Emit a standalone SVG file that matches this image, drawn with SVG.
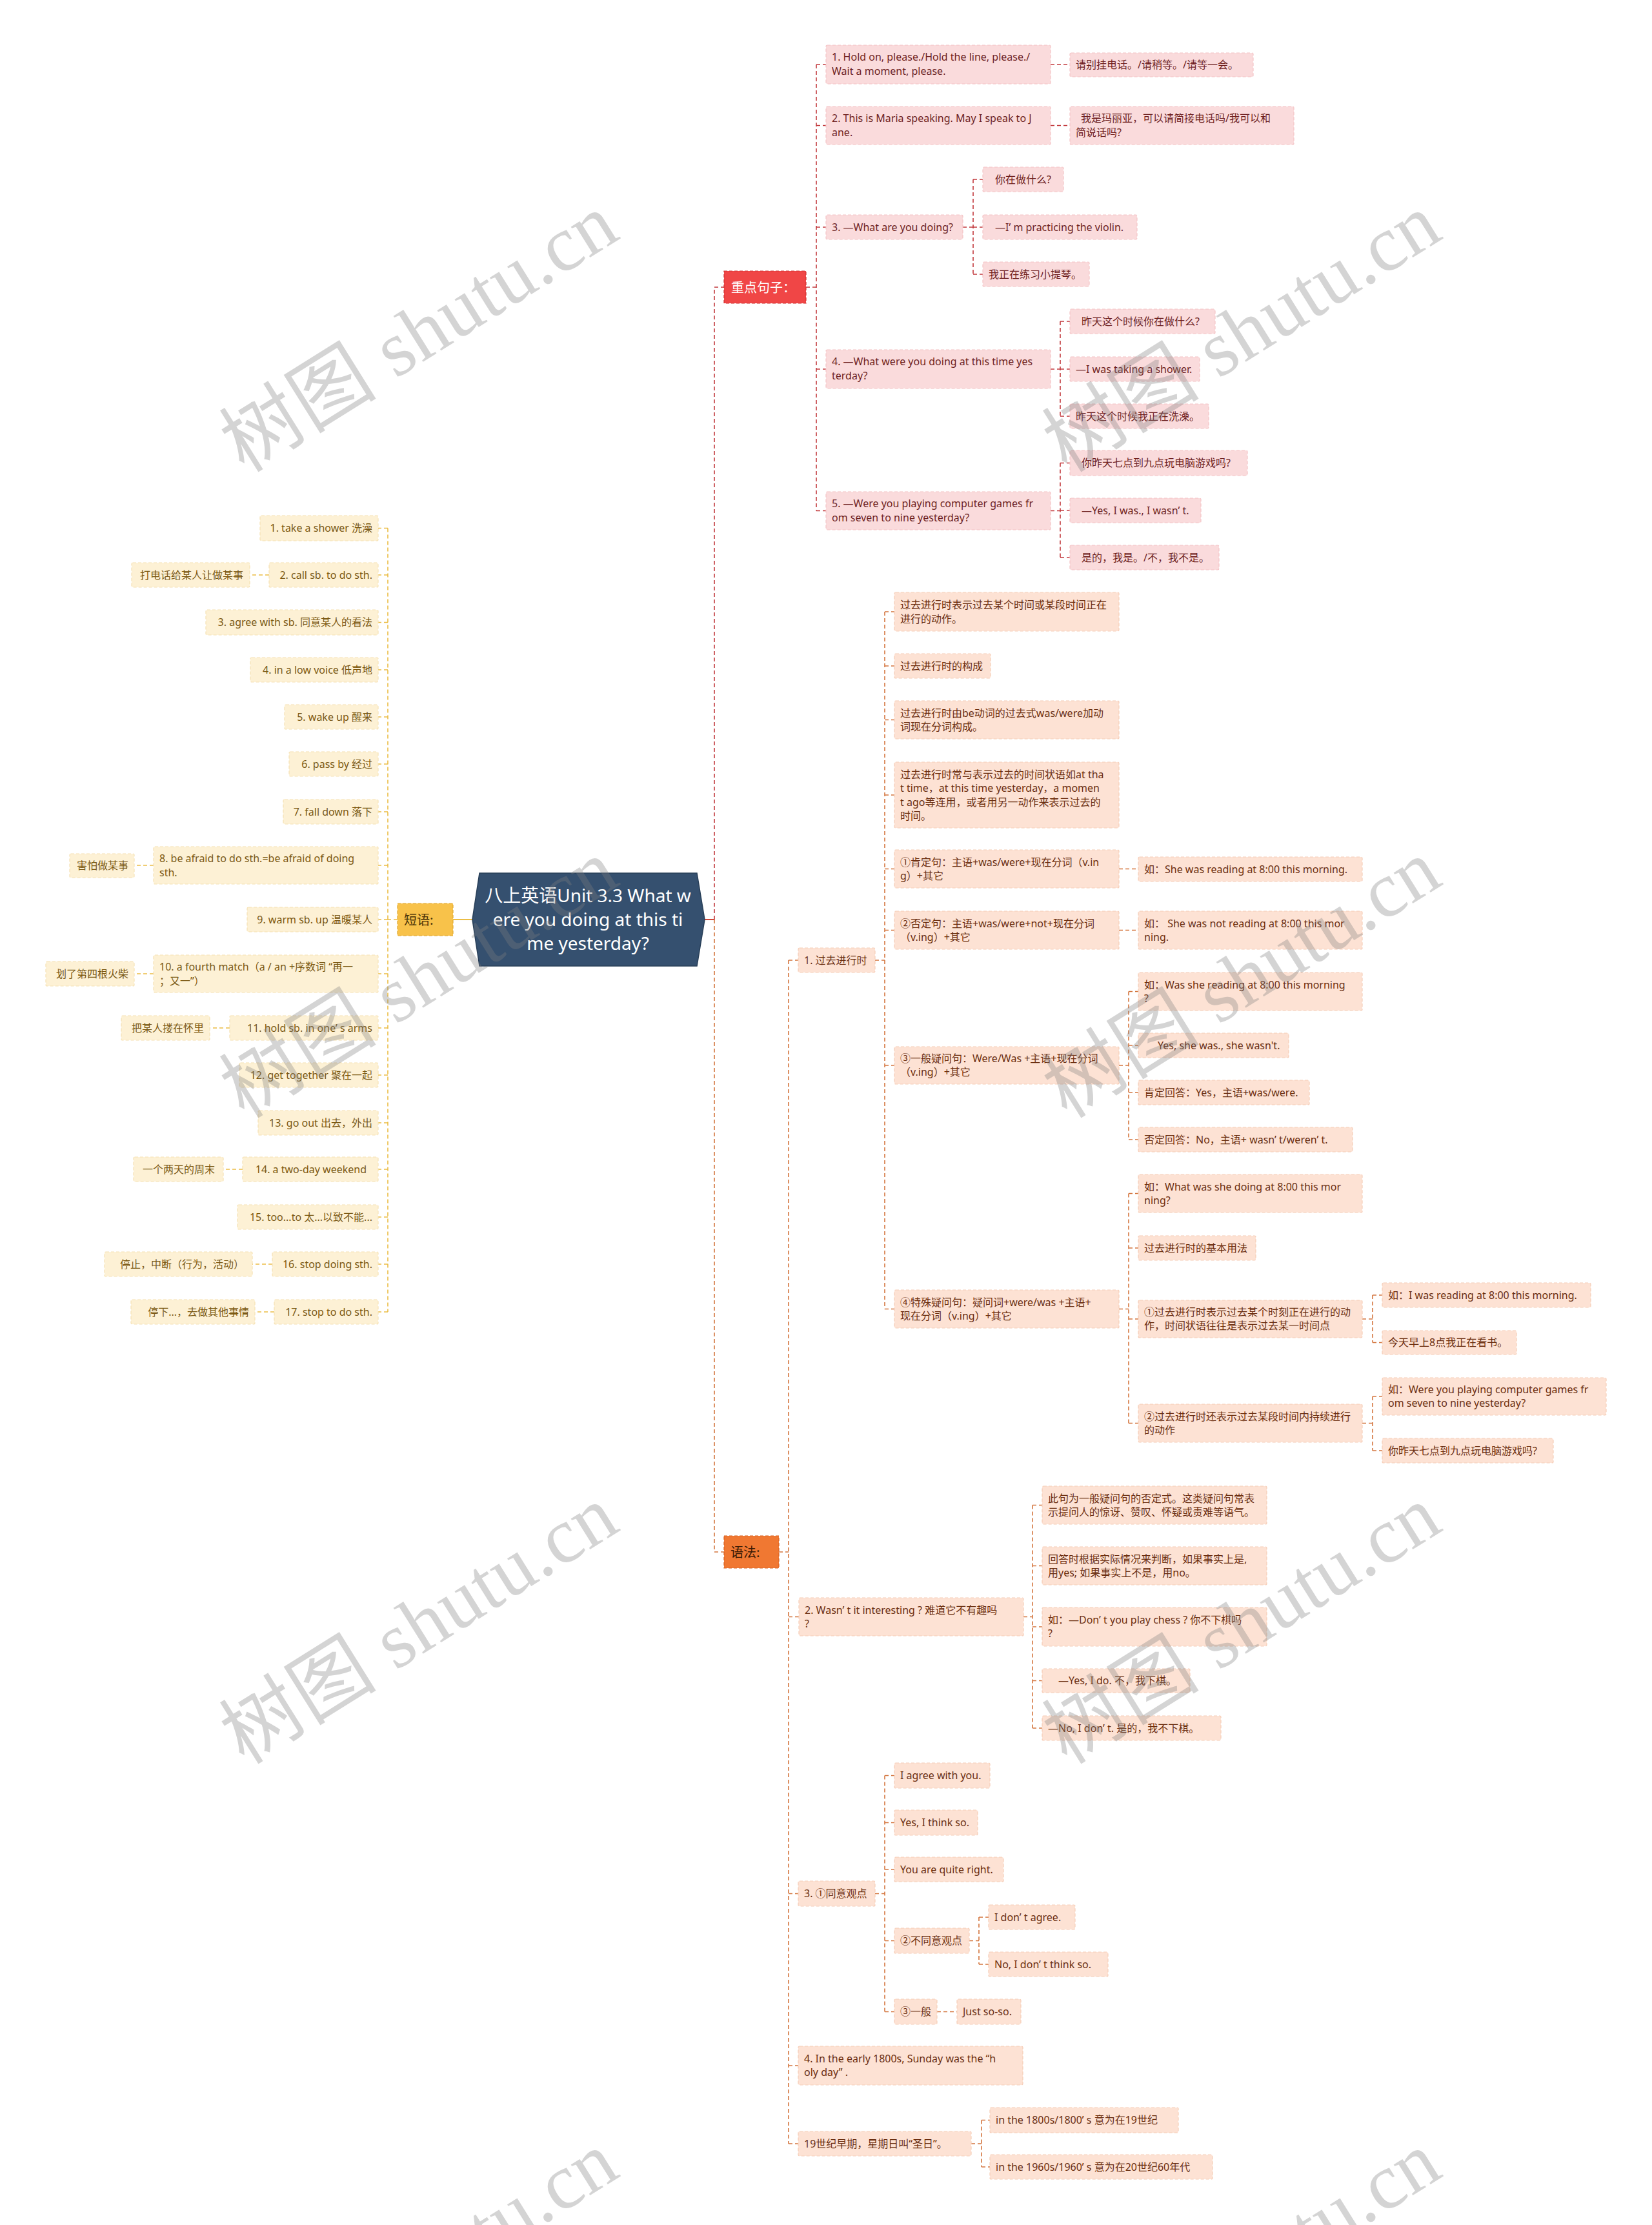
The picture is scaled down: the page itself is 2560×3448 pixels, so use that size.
<svg xmlns="http://www.w3.org/2000/svg" width="2560" height="3448" viewBox="0 0 2560 3448">
<style>
.t{font-family:"Noto Sans","Noto Sans CJK SC",sans-serif;font-size:16px}
.n1 rect{fill:#fadbdc;stroke:#f4c4c6;stroke-width:1.2;stroke-dasharray:5 3}
.n1 text{fill:#6e1f1f}
.n2 rect{fill:#fdf1d5;stroke:#f6e2b4;stroke-width:1.2;stroke-dasharray:5 3}
.n2 text{fill:#7a5812}
.n3 rect{fill:#fde2d4;stroke:#f6cdb7;stroke-width:1.2;stroke-dasharray:5 3}
.n3 text{fill:#6b2e10}
.c{fill:none;stroke-width:1.6;stroke-dasharray:6 4}
.c1{stroke:#c23a3e}
.c2{stroke:#ebbd45}
.c3{stroke:#d4763f}
.e{text-anchor:end}
.wm{font-family:"Liberation Serif","Noto Sans CJK SC",serif;font-size:122px;fill:#7f7f7f;opacity:0.33}
</style>
<rect width="2560" height="3448" fill="#ffffff"/>

<g id="connectors">
  <path d="M1092,1425 H1107" stroke="#d0483a" stroke-width="2" fill="none"/>
  <path class="c c1" d="M1107,1425 V445 H1122"/>
  <path class="c c3" d="M1107,1425 V2405 H1122"/>
  <path d="M732,1425 H702" stroke="#ebbd45" stroke-width="2" fill="none"/>

  <path class="c c1" d="M1249,445 H1265 M1265,100 V791.5 M1265,100 H1280 M1265,194.5 H1280 M1265,352 H1280 M1265,572 H1280 M1265,791.5 H1280"/>
  <path class="c c1" d="M1628,100 H1658 M1628,194.5 H1658"/>
  <path class="c c1" d="M1492,352 H1508 M1508,278 V425 M1508,278 H1523 M1508,352 H1523 M1508,425 H1523"/>
  <path class="c c1" d="M1628,572 H1643 M1643,498 V645 M1643,498 H1658 M1643,572 H1658 M1643,645 H1658"/>
  <path class="c c1" d="M1628,791.5 H1643 M1643,717.5 V864 M1643,717.5 H1658 M1643,791 H1658 M1643,864 H1658"/>

  <path class="c c2" d="M616,1425 H601 M601,818.5 V2033 M601,818.5 H586 M601,891 H586 M601,964.5 H586 M601,1038 H586 M601,1111 H586 M601,1184 H586 M601,1258 H586 M601,1341 H586 M601,1425 H586 M601,1509 H586 M601,1593 H586 M601,1666 H586 M601,1740 H586 M601,1812 H586 M601,1886 H586 M601,1959 H586 M601,2033 H586"/>
  <path class="c c2" d="M417,891 H387 M238,1341 H208 M238,1509 H208 M356,1593 H325 M376,1812 H346 M422,1959 H391 M425,2033 H395"/>

  <path class="c c3" d="M1207,2405 H1222 M1222,1488 V3322 M1222,1488 H1237 M1222,2505.5 H1238 M1222,2934.5 H1237 M1222,3201 H1237 M1222,3322 H1237"/>
  <path class="c c3" d="M1356,1488 H1371 M1371,948 V2028.5 M1371,948 H1386 M1371,1032 H1386 M1371,1115.5 H1386 M1371,1232 H1386 M1371,1346.5 H1386 M1371,1441.5 H1386 M1371,1651 H1386 M1371,2028.5 H1386"/>
  <path class="c c3" d="M1734,1346.5 H1764 M1734,1441.5 H1764"/>
  <path class="c c3" d="M1734,1651 H1749 M1749,1536.5 V1766 M1749,1536.5 H1764 M1749,1620 H1764 M1749,1693 H1764 M1749,1766 H1764"/>
  <path class="c c3" d="M1734,2028.5 H1749 M1749,1849.5 V2205.5 M1749,1849.5 H1764 M1749,1934 H1764 M1749,2044 H1764 M1749,2205.5 H1764"/>
  <path class="c c3" d="M2111,2044 H2127 M2127,2007 V2080.5 M2127,2007 H2142 M2127,2080.5 H2142"/>
  <path class="c c3" d="M2111,2205.5 H2127 M2127,2164 V2248 M2127,2164 H2142 M2127,2248 H2142"/>
  <path class="c c3" d="M1586,2505.5 H1600 M1600,2332.5 V2678 M1600,2332.5 H1615 M1600,2426.5 H1615 M1600,2521 H1615 M1600,2604.5 H1615 M1600,2678 H1615"/>
  <path class="c c3" d="M1356,2934.5 H1371 M1371,2751.5 V3117.5 M1371,2751.5 H1386 M1371,2824.5 H1386 M1371,2897 H1386 M1371,3007.5 H1386 M1371,3117.5 H1386"/>
  <path class="c c3" d="M1502,3007.5 H1517 M1517,2971 V3044 M1517,2971 H1532 M1517,3044 H1532 M1452,3117.5 H1483"/>
  <path class="c c3" d="M1505,3322 H1521 M1521,3285.5 V3358 M1521,3285.5 H1534 M1521,3358 H1534"/>
</g>

<g id="root">
  <path d="M743,1353 L1080,1353 L1092,1425 L1080,1497 L743,1497 L732,1425 Z" fill="#35506f" stroke="#283f58" stroke-width="1.5"/>
  <text font-family="Noto Sans,Noto Sans CJK SC,sans-serif" font-size="28" fill="#ffffff" text-anchor="middle"><tspan x="911" y="1398">八上英语Unit 3.3 What w</tspan><tspan x="911" y="1435">ere you doing at this ti</tspan><tspan x="911" y="1472">me yesterday?</tspan></text>
</g>

<g id="b-phrases">
  <rect x="616" y="1400" width="86" height="50" fill="#f8c24a" stroke="#e0a830" stroke-width="1.2" stroke-dasharray="5 3"/>
  <text x="626" y="1433" font-family="Noto Sans CJK SC,sans-serif" font-size="20" fill="#4a3408">短语:</text>
</g>
<g id="b-sentences">
  <rect x="1122" y="420" width="127" height="50" fill="#f04646" stroke="#d03030" stroke-width="1.2" stroke-dasharray="5 3"/>
  <text x="1133" y="453" font-family="Noto Sans CJK SC,sans-serif" font-size="20" fill="#ffffff">重点句子：</text>
</g>
<g id="b-grammar">
  <rect x="1122" y="2380" width="85" height="50" fill="#f07832" stroke="#d86020" stroke-width="1.2" stroke-dasharray="5 3"/>
  <text x="1132" y="2413" font-family="Noto Sans CJK SC,sans-serif" font-size="20" fill="#3a1a05">语法:</text>
</g>

<!-- 重点句子 -->
<g id="s1" class="n1 t"><rect x="1280" y="70" width="348" height="60" rx="2"/><text><tspan x="1289" y="94">1. Hold on, please./Hold the line, please./</tspan><tspan x="1289" y="116">Wait a moment, please.</tspan></text></g>
<g id="s1a" class="n1 t"><rect x="1658" y="82" width="284" height="37" rx="2"/><text x="1667" y="106">请别挂电话。/请稍等。/请等一会。</text></g>
<g id="s2" class="n1 t"><rect x="1280" y="165" width="348" height="59" rx="2"/><text><tspan x="1289" y="189">2. This is Maria speaking. May I speak to J</tspan><tspan x="1289" y="211">ane.</tspan></text></g>
<g id="s2a" class="n1 t"><rect x="1658" y="165" width="347" height="59" rx="2"/><text><tspan x="1675" y="189">我是玛丽亚，可以请简接电话吗/我可以和</tspan><tspan x="1667" y="211">简说话吗?</tspan></text></g>
<g id="s3" class="n1 t"><rect x="1280" y="333" width="212" height="38" rx="2"/><text x="1289" y="358">3. —What are you doing?</text></g>
<g id="s3a" class="n1 t"><rect x="1523" y="259" width="125" height="38" rx="2"/><text x="1542" y="284">你在做什么?</text></g>
<g id="s3b" class="n1 t"><rect x="1523" y="333" width="239" height="38" rx="2"/><text x="1542" y="358">—I’ m practicing the violin.</text></g>
<g id="s3c" class="n1 t"><rect x="1523" y="406" width="165" height="38" rx="2"/><text x="1532" y="431">我正在练习小提琴。</text></g>
<g id="s4" class="n1 t"><rect x="1280" y="542" width="348" height="60" rx="2"/><text><tspan x="1289" y="566">4. —What were you doing at this time yes</tspan><tspan x="1289" y="588">terday?</tspan></text></g>
<g id="s4a" class="n1 t"><rect x="1658" y="479" width="225" height="38" rx="2"/><text x="1676" y="504">昨天这个时候你在做什么?</text></g>
<g id="s4b" class="n1 t"><rect x="1658" y="553" width="201" height="38" rx="2"/><text x="1667" y="578">—I was taking a shower.</text></g>
<g id="s4c" class="n1 t"><rect x="1658" y="626" width="215" height="38" rx="2"/><text x="1667" y="651">昨天这个时候我正在洗澡。</text></g>
<g id="s5" class="n1 t"><rect x="1280" y="762" width="348" height="59" rx="2"/><text><tspan x="1289" y="786">5. —Were you playing computer games fr</tspan><tspan x="1289" y="808">om seven to nine yesterday?</tspan></text></g>
<g id="s5a" class="n1 t"><rect x="1658" y="698" width="275" height="39" rx="2"/><text x="1676" y="723">你昨天七点到九点玩电脑游戏吗?</text></g>
<g id="s5b" class="n1 t"><rect x="1658" y="772" width="203" height="38" rx="2"/><text x="1676" y="797">—Yes, I was., I wasn’ t.</text></g>
<g id="s5c" class="n1 t"><rect x="1658" y="845" width="231" height="38" rx="2"/><text x="1676" y="870">是的，我是。/不，我不是。</text></g>

<!-- 短语 -->
<g id="p1" class="n2 t"><rect x="403" y="799" width="183" height="39" rx="2"/><text class="e" x="577" y="824">1. take a shower 洗澡</text></g>
<g id="p2" class="n2 t"><rect x="417" y="872" width="169" height="38" rx="2"/><text class="e" x="577" y="897">2. call sb. to do sth.</text></g>
<g id="p2a" class="n2 t"><rect x="204" y="872" width="183" height="38" rx="2"/><text class="e" x="377" y="897">打电话给某人让做某事</text></g>
<g id="p3" class="n2 t"><rect x="319" y="945" width="267" height="39" rx="2"/><text class="e" x="577" y="970">3. agree with sb. 同意某人的看法</text></g>
<g id="p4" class="n2 t"><rect x="388" y="1019" width="198" height="38" rx="2"/><text class="e" x="577" y="1044">4. in a low voice 低声地</text></g>
<g id="p5" class="n2 t"><rect x="441" y="1092" width="145" height="38" rx="2"/><text class="e" x="577" y="1117">5. wake up  醒来</text></g>
<g id="p6" class="n2 t"><rect x="448" y="1165" width="138" height="38" rx="2"/><text class="e" x="577" y="1190">6. pass by  经过</text></g>
<g id="p7" class="n2 t"><rect x="439" y="1239" width="147" height="38" rx="2"/><text class="e" x="577" y="1264">7. fall down 落下</text></g>
<g id="p8" class="n2 t"><rect x="238" y="1312" width="348" height="58" rx="2"/><text><tspan x="247" y="1336">8. be afraid to do sth.=be afraid of doing</tspan><tspan x="247" y="1358">sth.</tspan></text></g>
<g id="p8a" class="n2 t"><rect x="108" y="1323" width="100" height="37" rx="2"/><text class="e" x="199" y="1347">害怕做某事</text></g>
<g id="p9" class="n2 t"><rect x="383" y="1406" width="203" height="38" rx="2"/><text class="e" x="577" y="1431">9. warm sb. up 温暖某人</text></g>
<g id="p10" class="n2 t"><rect x="238" y="1480" width="348" height="58" rx="2"/><text><tspan x="247" y="1504">10. a fourth match（a / an +序数词 “再一</tspan><tspan x="247" y="1526">；又一”）</tspan></text></g>
<g id="p10a" class="n2 t"><rect x="71" y="1490" width="137" height="38" rx="2"/><text class="e" x="199" y="1515">划了第四根火柴</text></g>
<g id="p11" class="n2 t"><rect x="356" y="1574" width="230" height="38" rx="2"/><text class="e" x="577" y="1599">11. hold sb. in one’ s arms</text></g>
<g id="p11a" class="n2 t"><rect x="188" y="1574" width="137" height="38" rx="2"/><text class="e" x="316" y="1599">把某人搂在怀里</text></g>
<g id="p12" class="n2 t"><rect x="371" y="1647" width="215" height="38" rx="2"/><text class="e" x="577" y="1672">12. get together 聚在一起</text></g>
<g id="p13" class="n2 t"><rect x="400" y="1721" width="186" height="38" rx="2"/><text class="e" x="577" y="1746">13. go out 出去，外出</text></g>
<g id="p14" class="n2 t"><rect x="376" y="1793" width="210" height="38" rx="2"/><text class="e" x="568" y="1818">14. a two-day weekend</text></g>
<g id="p14a" class="n2 t"><rect x="207" y="1793" width="139" height="38" rx="2"/><text class="e" x="333" y="1818">一个两天的周末</text></g>
<g id="p15" class="n2 t"><rect x="368" y="1867" width="218" height="38" rx="2"/><text class="e" x="577" y="1892">15. too...to  太...以致不能...</text></g>
<g id="p16" class="n2 t"><rect x="422" y="1940" width="164" height="38" rx="2"/><text class="e" x="577" y="1965">16. stop doing sth.</text></g>
<g id="p16a" class="n2 t"><rect x="162" y="1940" width="229" height="38" rx="2"/><text class="e" x="378" y="1965">停止，中断（行为，活动）</text></g>
<g id="p17" class="n2 t"><rect x="425" y="2014" width="161" height="38" rx="2"/><text class="e" x="577" y="2039">17. stop to do sth.</text></g>
<g id="p17a" class="n2 t"><rect x="203" y="2014" width="192" height="38" rx="2"/><text class="e" x="386" y="2039">停下...，去做其他事情</text></g>

<!-- 语法 -->
<g id="g1" class="n3 t"><rect x="1237" y="1469" width="119" height="38" rx="2"/><text x="1246" y="1494">1. 过去进行时</text></g>
<g id="g1a" class="n3 t"><rect x="1386" y="918" width="348" height="60" rx="2"/><text><tspan x="1395" y="943">过去进行时表示过去某个时间或某段时间正在</tspan><tspan x="1395" y="965">进行的动作。</tspan></text></g>
<g id="g1b" class="n3 t"><rect x="1386" y="1013" width="149" height="38" rx="2"/><text x="1395" y="1038">过去进行时的构成</text></g>
<g id="g1c" class="n3 t"><rect x="1386" y="1086" width="348" height="59" rx="2"/><text><tspan x="1395" y="1111">过去进行时由be动词的过去式was/were加动</tspan><tspan x="1395" y="1132">词现在分词构成。</tspan></text></g>
<g id="g1d" class="n3 t"><rect x="1386" y="1181" width="348" height="102" rx="2"/><text><tspan x="1395" y="1206">过去进行时常与表示过去的时间状语如at tha</tspan><tspan x="1395" y="1227">t time，at this time yesterday，a momen</tspan><tspan x="1395" y="1249">t ago等连用，或者用另一动作来表示过去的</tspan><tspan x="1395" y="1270">时间。</tspan></text></g>
<g id="g1e" class="n3 t"><rect x="1386" y="1317" width="348" height="59" rx="2"/><text><tspan x="1395" y="1342">①肯定句：主语+was/were+现在分词（v.in</tspan><tspan x="1395" y="1363">g）+其它</tspan></text></g>
<g id="g1e1" class="n3 t"><rect x="1764" y="1328" width="347" height="38" rx="2"/><text x="1773" y="1353">如：She was reading at 8:00 this morning.</text></g>
<g id="g1f" class="n3 t"><rect x="1386" y="1412" width="348" height="59" rx="2"/><text><tspan x="1395" y="1437">②否定句：主语+was/were+not+现在分词</tspan><tspan x="1395" y="1458">（v.ing）+其它</tspan></text></g>
<g id="g1f1" class="n3 t"><rect x="1764" y="1412" width="347" height="59" rx="2"/><text><tspan x="1773" y="1437">如： She was not reading at 8:00 this mor</tspan><tspan x="1773" y="1458">ning.</tspan></text></g>
<g id="g1g" class="n3 t"><rect x="1386" y="1622" width="348" height="58" rx="2"/><text><tspan x="1395" y="1646">③一般疑问句：Were/Was +主语+现在分词</tspan><tspan x="1395" y="1667">（v.ing）+其它</tspan></text></g>
<g id="g1g1" class="n3 t"><rect x="1764" y="1507" width="347" height="59" rx="2"/><text><tspan x="1773" y="1532">如：Was she reading at 8:00 this morning</tspan><tspan x="1773" y="1553">?</tspan></text></g>
<g id="g1g2" class="n3 t"><rect x="1764" y="1601" width="233" height="38" rx="2"/><text x="1794" y="1626">Yes, she was., she wasn't.</text></g>
<g id="g1g3" class="n3 t"><rect x="1764" y="1674" width="265" height="38" rx="2"/><text x="1773" y="1699">肯定回答：Yes，主语+was/were.</text></g>
<g id="g1g4" class="n3 t"><rect x="1764" y="1747" width="332" height="38" rx="2"/><text x="1773" y="1772">否定回答：No，主语+ wasn’ t/weren’ t.</text></g>
<g id="g1h" class="n3 t"><rect x="1386" y="1999" width="348" height="59" rx="2"/><text><tspan x="1395" y="2024">④特殊疑问句：疑问词+were/was +主语+</tspan><tspan x="1395" y="2045">现在分词（v.ing）+其它</tspan></text></g>
<g id="g1h1" class="n3 t"><rect x="1764" y="1820" width="347" height="59" rx="2"/><text><tspan x="1773" y="1845">如：What was she doing at 8:00 this mor</tspan><tspan x="1773" y="1866">ning?</tspan></text></g>
<g id="g1h2" class="n3 t"><rect x="1764" y="1915" width="182" height="38" rx="2"/><text x="1773" y="1940">过去进行时的基本用法</text></g>
<g id="g1h3" class="n3 t"><rect x="1764" y="2015" width="347" height="58" rx="2"/><text><tspan x="1773" y="2039">①过去进行时表示过去某个时刻正在进行的动</tspan><tspan x="1773" y="2060">作，时间状语往往是表示过去某一时间点</tspan></text></g>
<g id="g1h3a" class="n3 t"><rect x="2142" y="1988" width="323" height="38" rx="2"/><text x="2151" y="2013">如：I was reading at 8:00 this morning.</text></g>
<g id="g1h3b" class="n3 t"><rect x="2142" y="2062" width="208" height="37" rx="2"/><text x="2151" y="2086">今天早上8点我正在看书。</text></g>
<g id="g1h4" class="n3 t"><rect x="1764" y="2176" width="347" height="59" rx="2"/><text><tspan x="1773" y="2201">②过去进行时还表示过去某段时间内持续进行</tspan><tspan x="1773" y="2222">的动作</tspan></text></g>
<g id="g1h4a" class="n3 t"><rect x="2142" y="2135" width="347" height="58" rx="2"/><text><tspan x="2151" y="2159">如：Were you playing computer games fr</tspan><tspan x="2151" y="2180">om seven to nine yesterday?</tspan></text></g>
<g id="g1h4b" class="n3 t"><rect x="2142" y="2229" width="265" height="38" rx="2"/><text x="2151" y="2254">你昨天七点到九点玩电脑游戏吗?</text></g>

<g id="g2" class="n3 t"><rect x="1238" y="2476" width="348" height="59" rx="2"/><text><tspan x="1247" y="2501">2. Wasn’ t it interesting ? 难道它不有趣吗</tspan><tspan x="1247" y="2522">?</tspan></text></g>
<g id="g2a" class="n3 t"><rect x="1615" y="2303" width="348" height="59" rx="2"/><text><tspan x="1624" y="2328">此句为一般疑问句的否定式。这类疑问句常表</tspan><tspan x="1624" y="2349">示提问人的惊讶、赞叹、怀疑或责难等语气。</tspan></text></g>
<g id="g2b" class="n3 t"><rect x="1615" y="2397" width="348" height="59" rx="2"/><text><tspan x="1624" y="2422">回答时根据实际情况来判断，如果事实上是,</tspan><tspan x="1624" y="2443">用yes; 如果事实上不是，用no。</tspan></text></g>
<g id="g2c" class="n3 t"><rect x="1615" y="2491" width="348" height="60" rx="2"/><text><tspan x="1624" y="2516">如：—Don’ t you play chess ? 你不下棋吗</tspan><tspan x="1624" y="2537">?</tspan></text></g>
<g id="g2d" class="n3 t"><rect x="1615" y="2586" width="229" height="37" rx="2"/><text x="1640" y="2610">—Yes, I do. 不，我下棋。</text></g>
<g id="g2e" class="n3 t"><rect x="1615" y="2659" width="277" height="38" rx="2"/><text x="1624" y="2684">—No, I don’ t. 是的，我不下棋。</text></g>

<g id="g3" class="n3 t"><rect x="1237" y="2915" width="119" height="39" rx="2"/><text x="1246" y="2940">3. ①同意观点</text></g>
<g id="g3a" class="n3 t"><rect x="1386" y="2732" width="148" height="39" rx="2"/><text x="1395" y="2757">I agree with you.</text></g>
<g id="g3b" class="n3 t"><rect x="1386" y="2805" width="129" height="39" rx="2"/><text x="1395" y="2830">Yes, I think so.</text></g>
<g id="g3c" class="n3 t"><rect x="1386" y="2878" width="169" height="38" rx="2"/><text x="1395" y="2903">You are quite right.</text></g>
<g id="g3d" class="n3 t"><rect x="1386" y="2988" width="116" height="39" rx="2"/><text x="1395" y="3013">②不同意观点</text></g>
<g id="g3d1" class="n3 t"><rect x="1532" y="2952" width="134" height="38" rx="2"/><text x="1541" y="2977">I don’ t agree.</text></g>
<g id="g3d2" class="n3 t"><rect x="1532" y="3025" width="185" height="38" rx="2"/><text x="1541" y="3050">No, I don’ t think so.</text></g>
<g id="g3e" class="n3 t"><rect x="1386" y="3098" width="66" height="39" rx="2"/><text x="1395" y="3123">③一般</text></g>
<g id="g3e1" class="n3 t"><rect x="1483" y="3098" width="99" height="39" rx="2"/><text x="1492" y="3123">Just so-so.</text></g>
<g id="g4" class="n3 t"><rect x="1237" y="3171" width="348" height="60" rx="2"/><text><tspan x="1246" y="3196">4. In the early 1800s, Sunday was the “h</tspan><tspan x="1246" y="3217">oly day” .</tspan></text></g>
<g id="g5" class="n3 t"><rect x="1237" y="3303" width="268" height="38" rx="2"/><text x="1246" y="3328">19世纪早期，星期日叫“圣日”。</text></g>
<g id="g5a" class="n3 t"><rect x="1534" y="3266" width="292" height="39" rx="2"/><text x="1543" y="3291">in the 1800s/1800’ s 意为在19世纪</text></g>
<g id="g5b" class="n3 t"><rect x="1534" y="3339" width="345" height="38" rx="2"/><text x="1543" y="3364">in the 1960s/1960’ s 意为在20世纪60年代</text></g>

<g id="watermarks">
  <text class="wm" x="650" y="517" text-anchor="middle" textLength="690" transform="rotate(-32 650 517)" dy="40">树图 shutu.cn</text>
  <text class="wm" x="1925" y="517" text-anchor="middle" textLength="690" transform="rotate(-32 1925 517)" dy="40">树图 shutu.cn</text>
  <text class="wm" x="650" y="1518" text-anchor="middle" textLength="690" transform="rotate(-32 650 1518)" dy="40">树图 shutu.cn</text>
  <text class="wm" x="1925" y="1518" text-anchor="middle" textLength="690" transform="rotate(-32 1925 1518)" dy="40">树图 shutu.cn</text>
  <text class="wm" x="650" y="2519" text-anchor="middle" textLength="690" transform="rotate(-32 650 2519)" dy="40">树图 shutu.cn</text>
  <text class="wm" x="1925" y="2519" text-anchor="middle" textLength="690" transform="rotate(-32 1925 2519)" dy="40">树图 shutu.cn</text>
  <text class="wm" x="650" y="3520" text-anchor="middle" textLength="690" transform="rotate(-32 650 3520)" dy="40">树图 shutu.cn</text>
  <text class="wm" x="1925" y="3520" text-anchor="middle" textLength="690" transform="rotate(-32 1925 3520)" dy="40">树图 shutu.cn</text>
</g>
</svg>
